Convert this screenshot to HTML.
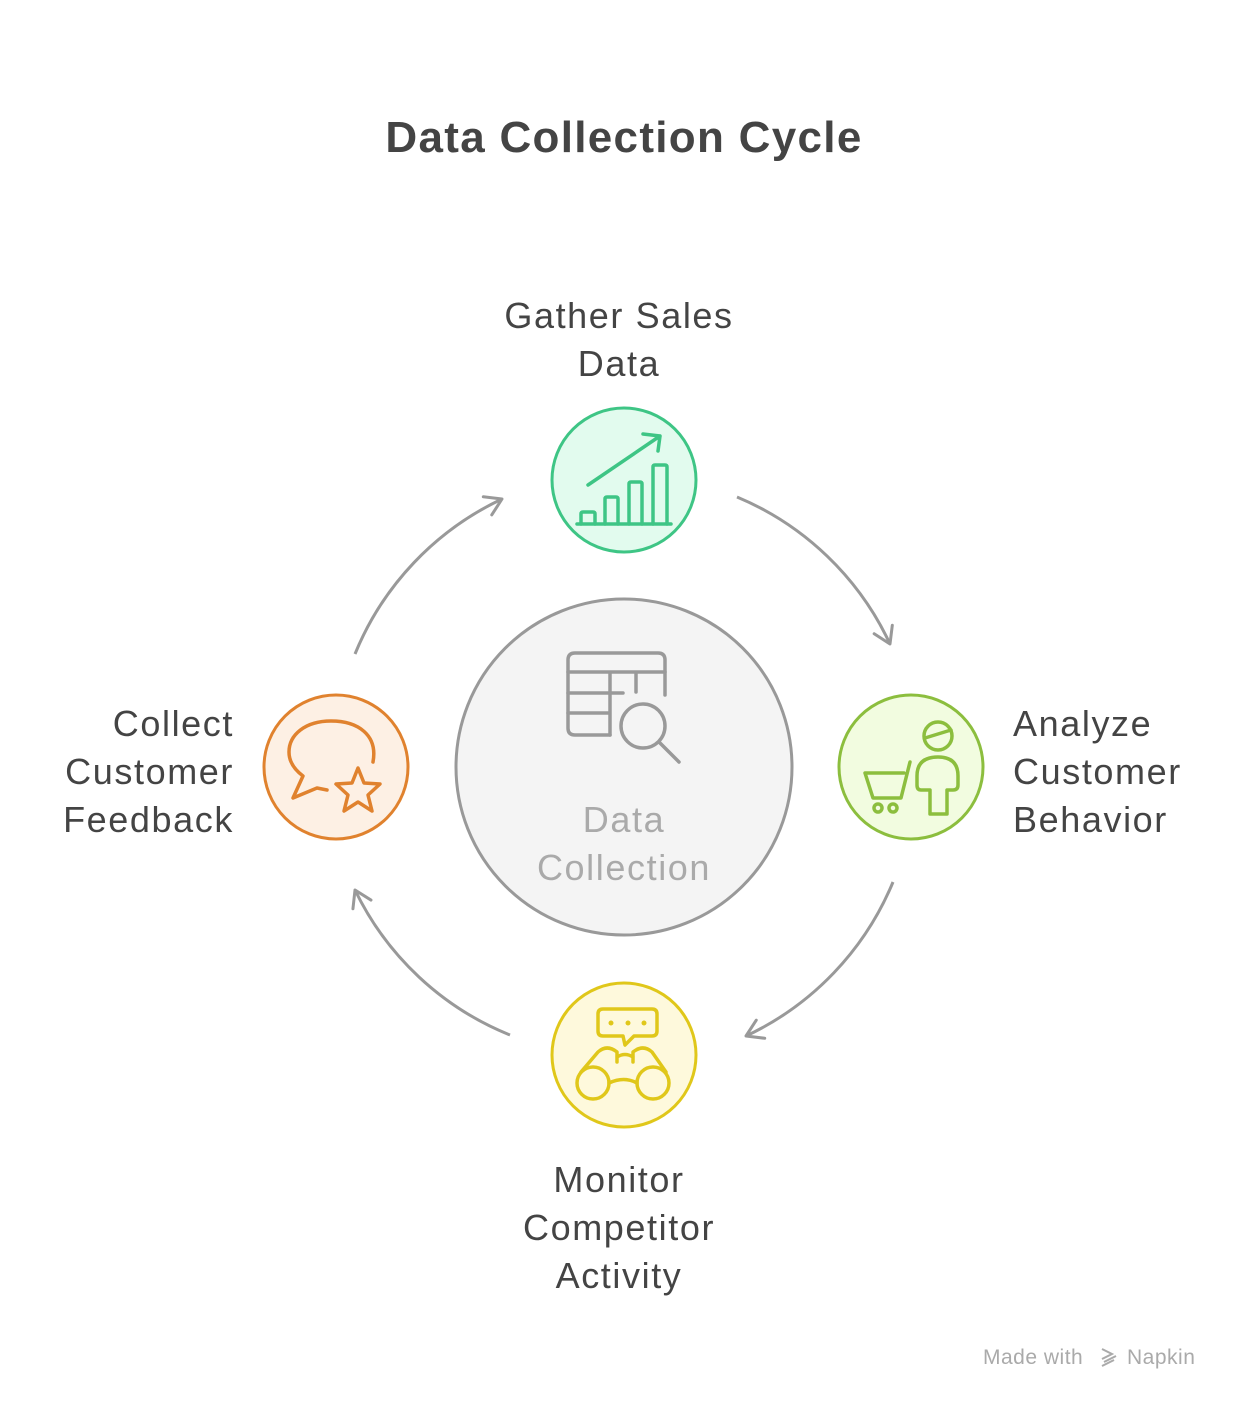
<!DOCTYPE html>
<html><head><meta charset="utf-8"><style>
html,body{margin:0;padding:0;background:#fff}
svg{display:block}
text{font-family:"Liberation Sans",sans-serif}
.l{letter-spacing:1.6px}
</style></head><body>
<svg width="1248" height="1412" viewBox="0 0 1248 1412" xmlns="http://www.w3.org/2000/svg">
<defs>
<marker id="ah" markerWidth="24" markerHeight="24" refX="19" refY="12" orient="auto" markerUnits="userSpaceOnUse">
<path d="M3,2 L19,12 L3,22" fill="none" stroke="#999" stroke-width="3" stroke-linecap="round" stroke-linejoin="round"/>
</marker>
</defs>
<text x="624" y="152" text-anchor="middle" font-size="44" font-weight="bold" fill="#444" letter-spacing="1.3">Data Collection Cycle</text>

<g fill="none" stroke="#999" stroke-width="3" marker-end="url(#ah)">
<path d="M737,497 A294,294 0 0 1 890,644"/>
<path d="M893,882 A294,294 0 0 1 746,1036"/>
<path d="M510,1035 A294,294 0 0 1 355,890"/>
<path d="M355,654 A294,294 0 0 1 502,499"/>
</g>

<circle cx="624" cy="767" r="168" fill="#f4f4f4" stroke="#999" stroke-width="3"/>
<g fill="none" stroke="#999" stroke-width="3.5" stroke-linecap="round" stroke-linejoin="round">
<path d="M610,735 L575,735 Q568,735 568,728 L568,660 Q568,653 575,653 L658,653 Q665,653 665,660 L665,695"/>
<path d="M568,672 L665,672 M568,693 L623,693 M568,713 L610,713 M610,672 L610,735 M636,672 L636,692"/>
<circle cx="643" cy="726" r="22"/>
<path d="M659,742 L679,762"/>
</g>
<text class="l" x="624" y="832" text-anchor="middle" font-size="36" fill="#aaa">Data</text>
<text class="l" x="624" y="880" text-anchor="middle" font-size="36" fill="#aaa">Collection</text>

<circle cx="624" cy="480" r="72" fill="#e2fbee" stroke="#3ec585" stroke-width="3"/>
<g fill="none" stroke="#3ec585" stroke-width="3.5" stroke-linecap="round" stroke-linejoin="round">
<path d="M577,524 L671,524"/>
<path d="M581,524 L581,514 Q581,512 583,512 L593,512 Q595,512 595,514 L595,524"/>
<path d="M605,524 L605,499 Q605,497 607,497 L616,497 Q618,497 618,499 L618,524"/>
<path d="M629,524 L629,484 Q629,482 631,482 L640,482 Q642,482 642,484 L642,524"/>
<path d="M653,524 L653,467 Q653,465 655,465 L665,465 Q667,465 667,467 L667,524"/>
<path d="M588,485 L660,436 M643,434 L660,436 L658,451"/>
</g>
<text class="l" x="619" y="328" text-anchor="middle" font-size="36" fill="#444">Gather Sales</text>
<text class="l" x="619" y="376" text-anchor="middle" font-size="36" fill="#444">Data</text>

<circle cx="911" cy="767" r="72" fill="#f2fce0" stroke="#8cbe3e" stroke-width="3"/>
<g fill="none" stroke="#8cbe3e" stroke-width="3.5" stroke-linecap="round" stroke-linejoin="round">
<circle cx="938" cy="736" r="14"/>
<path d="M925,738 Q938,734 951,730"/>
<path d="M930,814 L930,790 L921,790 Q917,790 917,785 L917,776 Q917,757 938,757 Q958,757 958,776 L958,785 Q958,790 953,790 L947,790 L947,814 Z"/>
<path d="M865,773 L904,773 M865,773 L873,798 L901,798 L910,762"/>
<circle cx="878" cy="808" r="4"/>
<circle cx="893" cy="808" r="4"/>
</g>
<text class="l" x="1013" y="736" font-size="36" fill="#444">Analyze</text>
<text class="l" x="1013" y="784" font-size="36" fill="#444">Customer</text>
<text class="l" x="1013" y="832" font-size="36" fill="#444">Behavior</text>

<circle cx="624" cy="1055" r="72" fill="#fef9dc" stroke="#e0c71a" stroke-width="3"/>
<g fill="none" stroke="#e0c71a" stroke-width="3.5" stroke-linecap="round" stroke-linejoin="round">
<path d="M623,1036 L603,1036 Q598,1036 598,1031 L598,1014 Q598,1009 603,1009 L652,1009 Q657,1009 657,1014 L657,1031 Q657,1036 652,1036 L634,1036 L625,1045 Z"/>
<circle cx="593" cy="1083" r="16"/>
<circle cx="653" cy="1083" r="16"/>
<path d="M581,1072 L598,1052 Q607,1044 617,1052 L617,1062 M633,1062 L633,1052 Q643,1044 652,1052 L666,1072 M617,1057 Q625,1052 633,1057 M609,1083 Q624,1076 637,1083"/>
</g>
<g fill="#e0c71a"><circle cx="611" cy="1023" r="2.5"/><circle cx="628" cy="1023" r="2.5"/><circle cx="644" cy="1023" r="2.5"/></g>
<text class="l" x="619" y="1192" text-anchor="middle" font-size="36" fill="#444">Monitor</text>
<text class="l" x="619" y="1240" text-anchor="middle" font-size="36" fill="#444">Competitor</text>
<text class="l" x="619" y="1288" text-anchor="middle" font-size="36" fill="#444">Activity</text>

<circle cx="336" cy="767" r="72" fill="#fdf0e4" stroke="#e0822e" stroke-width="3"/>
<g fill="none" stroke="#e0822e" stroke-width="3.5" stroke-linecap="round" stroke-linejoin="round">
<path d="M373,762 C378,735 358,721 331,721 C305,721 289,735 289,752 C289,762 295,770 303,776 L293,798 L317,788 L327,790"/>
<path d="M358,768 L364,783 L380,784 L368,795 L372,811 L358,802 L344,811 L348,795 L336,784 L352,783 Z"/>
</g>
<text class="l" x="234" y="736" text-anchor="end" font-size="36" fill="#444">Collect</text>
<text class="l" x="234" y="784" text-anchor="end" font-size="36" fill="#444">Customer</text>
<text class="l" x="234" y="832" text-anchor="end" font-size="36" fill="#444">Feedback</text>

<text x="983" y="1364" font-size="21" fill="#aaa" letter-spacing="0.5">Made with</text>
<g fill="none" stroke="#aaa" stroke-width="2"><path d="M1102,1349 L1112,1354 L1102,1359 M1104,1362 L1116,1356 M1102,1366 L1114,1360"/></g>
<text x="1127" y="1364" font-size="21" fill="#aaa" letter-spacing="0.5">Napkin</text>
</svg>
</body></html>
